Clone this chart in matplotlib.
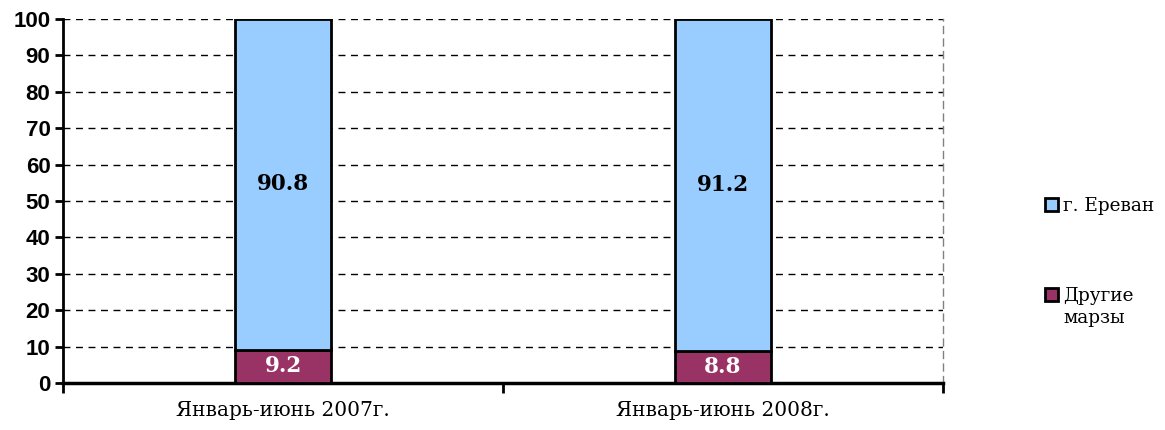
import matplotlib
matplotlib.use('Agg')
import matplotlib.pyplot as plt
from matplotlib.patches import Patch

# data
categories = ['Январь-июнь 2007г.', 'Январь-июнь 2008г.']
other = [9.2, 8.8]
yerevan = [90.8, 91.2]
series_names = ['г. Ереван', 'Другие', 'марзы']
c_yer = '#99ccff'
c_oth = '#993366'

fig = plt.figure(figsize=(11.65, 4.3), dpi=100)
ax = fig.add_axes([63/1165, 47/430, 880/1165, 364/430])

x = list(range(len(categories)))
b1 = ax.bar(x, other, width=0.22, color=c_oth, edgecolor='black', linewidth=2, zorder=3)
b2 = ax.bar(x, yerevan, width=0.22, bottom=other, color=c_yer, edgecolor='black', linewidth=2, zorder=3)

for i in x:
    ax.text(i, other[i] / 2, '%.1f' % other[i], ha='center', va='center', color='white',
            fontsize=15.5, fontweight='bold', family='DejaVu Serif', zorder=4)
    ax.text(i, other[i] + yerevan[i] / 2, '%.1f' % yerevan[i], ha='center', va='center',
            color='black', fontsize=15.5, fontweight='bold', family='DejaVu Serif', zorder=4)

ax.set_xlim(-0.5, 1.5)
ax.set_ylim(0, 100)
ax.set_yticks(range(0, 101, 10))
ax.set_yticklabels([str(v) for v in range(0, 101, 10)], fontsize=16, fontweight='bold',
                   family='Liberation Sans')
ax.set_xticks([-0.5, 0.5, 1.5])
ax.set_xticklabels(['', '', ''])
ax.set_xticks(x, minor=True)
ax.set_xticklabels(categories, minor=True, fontsize=14.5, family='DejaVu Serif')
ax.tick_params(axis='x', which='minor', length=0, pad=13)
ax.tick_params(axis='x', which='major', length=7, width=2, direction='out')
ax.tick_params(axis='y', length=6, width=2, direction='out', pad=3)

# grid (dashed)
for v in range(10, 101, 10):
    ax.axhline(v, color='black', linestyle=(0, (5, 4)), linewidth=1, zorder=1)

ax.spines['top'].set_visible(False)
ax.spines['right'].set_color('gray')
ax.spines['right'].set_linestyle((0, (5, 4)))
ax.spines['right'].set_linewidth(1)
ax.spines['left'].set_linewidth(2)
ax.spines['bottom'].set_linewidth(2.5)

handles = [Patch(facecolor=c_yer, edgecolor='black', linewidth=2),
           Patch(facecolor=c_oth, edgecolor='black', linewidth=2)]
leg = fig.legend(handles, series_names[:2], loc='center left', bbox_to_anchor=(1028/1165, 1 - 251/430),
                 frameon=False, handlelength=0.75, handleheight=0.75, handletextpad=0.25,
                 labelspacing=3.9, prop={'family': 'DejaVu Serif', 'size': 13.3})
fig.canvas.draw()
t2 = leg.get_texts()[1]
bb = t2.get_window_extent()
fig.text(bb.x0 / 1165, (bb.y0 - 4) / 430, series_names[2], ha='left', va='top',
         family='DejaVu Serif', fontsize=13.3)

fig.savefig('out.png', dpi=100)
